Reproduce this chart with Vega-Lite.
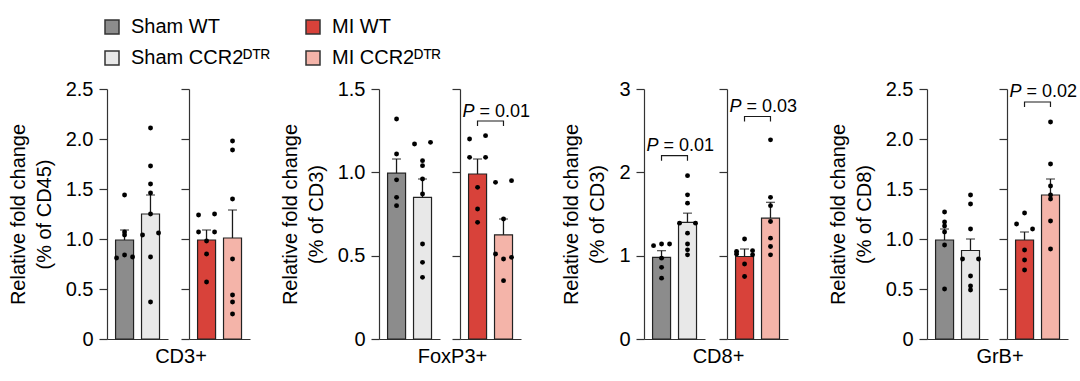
{
"$schema": "https://vega.github.io/schema/vega-lite/v6.json",
"background": "white",
"padding": {"left": 8, "top": 17, "right": 2, "bottom": 2},
"config": {
 "font": "Liberation Sans",
 "view": {"stroke": null},
 "axis": {"grid": false, "domainColor": "#333", "domainWidth": 1.2, "tickColor": "#333", "tickWidth": 1.2, "labelFontSize": 20, "labelColor": "#000", "titleFontSize": 20, "titleFontWeight": "normal", "titleColor": "#000"},
 "axisY": {"tickSize": 8, "labelPadding": 6, "titlePadding": 11, "titleLineHeight": 26},
 "axisX": {"labels": false, "ticks": false, "titlePadding": 7},
 "legend": {"orient": "none", "legendX": -5, "legendY": -72, "columns": 2, "symbolType": "square", "symbolSize": 196, "symbolStrokeColor": "#333", "symbolStrokeWidth": 1.5, "labelFontSize": 20, "labelColor": "#000", "labelOffset": 9, "rowPadding": 11, "columnPadding": 33, "labelLimit": 300}
},
"datasets": {
 "bars": [
  {"marker":"CD3+","cond":"Sham","group":"Sham WT","mean":0.99,"hi":1.09},
  {"marker":"CD3+","cond":"Sham","group":"Sham CCR2ᴰᵀᴿ","mean":1.25,"hi":1.44},
  {"marker":"CD3+","cond":"MI","group":"MI WT","mean":0.99,"hi":1.09},
  {"marker":"CD3+","cond":"MI","group":"MI CCR2ᴰᵀᴿ","mean":1.01,"hi":1.29},
  {"marker":"FoxP3+","cond":"Sham","group":"Sham WT","mean":0.995,"hi":1.08},
  {"marker":"FoxP3+","cond":"Sham","group":"Sham CCR2ᴰᵀᴿ","mean":0.85,"hi":0.96},
  {"marker":"FoxP3+","cond":"MI","group":"MI WT","mean":0.99,"hi":1.08},
  {"marker":"FoxP3+","cond":"MI","group":"MI CCR2ᴰᵀᴿ","mean":0.625,"hi":0.72},
  {"marker":"CD8+","cond":"Sham","group":"Sham WT","mean":0.98,"hi":1.06},
  {"marker":"CD8+","cond":"Sham","group":"Sham CCR2ᴰᵀᴿ","mean":1.40,"hi":1.51},
  {"marker":"CD8+","cond":"MI","group":"MI WT","mean":0.99,"hi":1.08},
  {"marker":"CD8+","cond":"MI","group":"MI CCR2ᴰᵀᴿ","mean":1.45,"hi":1.64},
  {"marker":"GrB+","cond":"Sham","group":"Sham WT","mean":0.99,"hi":1.10},
  {"marker":"GrB+","cond":"Sham","group":"Sham CCR2ᴰᵀᴿ","mean":0.885,"hi":1.0},
  {"marker":"GrB+","cond":"MI","group":"MI WT","mean":0.99,"hi":1.07},
  {"marker":"GrB+","cond":"MI","group":"MI CCR2ᴰᵀᴿ","mean":1.44,"hi":1.60}
 ],
 "dots": [
  {"marker":"CD3+","cond":"Sham","group":"Sham WT","value":1.44,"lane":"C"},
  {"marker":"CD3+","cond":"Sham","group":"Sham WT","value":1.07,"lane":"C"},
  {"marker":"CD3+","cond":"Sham","group":"Sham WT","value":1.04,"lane":"C"},
  {"marker":"CD3+","cond":"Sham","group":"Sham WT","value":0.84,"lane":"C"},
  {"marker":"CD3+","cond":"Sham","group":"Sham WT","value":0.81,"lane":"L"},
  {"marker":"CD3+","cond":"Sham","group":"Sham WT","value":0.82,"lane":"R"},
  {"marker":"CD3+","cond":"Sham","group":"Sham CCR2ᴰᵀᴿ","value":2.11,"lane":"C"},
  {"marker":"CD3+","cond":"Sham","group":"Sham CCR2ᴰᵀᴿ","value":1.73,"lane":"C"},
  {"marker":"CD3+","cond":"Sham","group":"Sham CCR2ᴰᵀᴿ","value":1.55,"lane":"C"},
  {"marker":"CD3+","cond":"Sham","group":"Sham CCR2ᴰᵀᴿ","value":1.46,"lane":"C"},
  {"marker":"CD3+","cond":"Sham","group":"Sham CCR2ᴰᵀᴿ","value":1.25,"lane":"C"},
  {"marker":"CD3+","cond":"Sham","group":"Sham CCR2ᴰᵀᴿ","value":1.04,"lane":"L"},
  {"marker":"CD3+","cond":"Sham","group":"Sham CCR2ᴰᵀᴿ","value":1.06,"lane":"R"},
  {"marker":"CD3+","cond":"Sham","group":"Sham CCR2ᴰᵀᴿ","value":0.82,"lane":"C"},
  {"marker":"CD3+","cond":"Sham","group":"Sham CCR2ᴰᵀᴿ","value":0.37,"lane":"C"},
  {"marker":"CD3+","cond":"MI","group":"MI WT","value":1.24,"lane":"L"},
  {"marker":"CD3+","cond":"MI","group":"MI WT","value":1.25,"lane":"R"},
  {"marker":"CD3+","cond":"MI","group":"MI WT","value":1.07,"lane":"L"},
  {"marker":"CD3+","cond":"MI","group":"MI WT","value":1.07,"lane":"R"},
  {"marker":"CD3+","cond":"MI","group":"MI WT","value":0.98,"lane":"C"},
  {"marker":"CD3+","cond":"MI","group":"MI WT","value":0.85,"lane":"C"},
  {"marker":"CD3+","cond":"MI","group":"MI WT","value":0.57,"lane":"C"},
  {"marker":"CD3+","cond":"MI","group":"MI CCR2ᴰᵀᴿ","value":1.98,"lane":"C"},
  {"marker":"CD3+","cond":"MI","group":"MI CCR2ᴰᵀᴿ","value":1.89,"lane":"C"},
  {"marker":"CD3+","cond":"MI","group":"MI CCR2ᴰᵀᴿ","value":1.40,"lane":"C"},
  {"marker":"CD3+","cond":"MI","group":"MI CCR2ᴰᵀᴿ","value":0.80,"lane":"C"},
  {"marker":"CD3+","cond":"MI","group":"MI CCR2ᴰᵀᴿ","value":0.44,"lane":"C"},
  {"marker":"CD3+","cond":"MI","group":"MI CCR2ᴰᵀᴿ","value":0.37,"lane":"C"},
  {"marker":"CD3+","cond":"MI","group":"MI CCR2ᴰᵀᴿ","value":0.25,"lane":"C"},
  {"marker":"FoxP3+","cond":"Sham","group":"Sham WT","value":1.32,"lane":"C"},
  {"marker":"FoxP3+","cond":"Sham","group":"Sham WT","value":1.11,"lane":"C"},
  {"marker":"FoxP3+","cond":"Sham","group":"Sham WT","value":0.955,"lane":"C"},
  {"marker":"FoxP3+","cond":"Sham","group":"Sham WT","value":0.85,"lane":"C"},
  {"marker":"FoxP3+","cond":"Sham","group":"Sham WT","value":0.80,"lane":"C"},
  {"marker":"FoxP3+","cond":"Sham","group":"Sham CCR2ᴰᵀᴿ","value":1.17,"lane":"L"},
  {"marker":"FoxP3+","cond":"Sham","group":"Sham CCR2ᴰᵀᴿ","value":1.18,"lane":"R"},
  {"marker":"FoxP3+","cond":"Sham","group":"Sham CCR2ᴰᵀᴿ","value":1.07,"lane":"C"},
  {"marker":"FoxP3+","cond":"Sham","group":"Sham CCR2ᴰᵀᴿ","value":1.04,"lane":"C"},
  {"marker":"FoxP3+","cond":"Sham","group":"Sham CCR2ᴰᵀᴿ","value":0.96,"lane":"C"},
  {"marker":"FoxP3+","cond":"Sham","group":"Sham CCR2ᴰᵀᴿ","value":0.87,"lane":"C"},
  {"marker":"FoxP3+","cond":"Sham","group":"Sham CCR2ᴰᵀᴿ","value":0.57,"lane":"C"},
  {"marker":"FoxP3+","cond":"Sham","group":"Sham CCR2ᴰᵀᴿ","value":0.46,"lane":"C"},
  {"marker":"FoxP3+","cond":"Sham","group":"Sham CCR2ᴰᵀᴿ","value":0.37,"lane":"C"},
  {"marker":"FoxP3+","cond":"MI","group":"MI WT","value":1.20,"lane":"L"},
  {"marker":"FoxP3+","cond":"MI","group":"MI WT","value":1.22,"lane":"R"},
  {"marker":"FoxP3+","cond":"MI","group":"MI WT","value":1.09,"lane":"L"},
  {"marker":"FoxP3+","cond":"MI","group":"MI WT","value":1.09,"lane":"R"},
  {"marker":"FoxP3+","cond":"MI","group":"MI WT","value":0.91,"lane":"C"},
  {"marker":"FoxP3+","cond":"MI","group":"MI WT","value":0.78,"lane":"C"},
  {"marker":"FoxP3+","cond":"MI","group":"MI WT","value":0.70,"lane":"C"},
  {"marker":"FoxP3+","cond":"MI","group":"MI CCR2ᴰᵀᴿ","value":0.94,"lane":"L"},
  {"marker":"FoxP3+","cond":"MI","group":"MI CCR2ᴰᵀᴿ","value":0.95,"lane":"R"},
  {"marker":"FoxP3+","cond":"MI","group":"MI CCR2ᴰᵀᴿ","value":0.72,"lane":"C"},
  {"marker":"FoxP3+","cond":"MI","group":"MI CCR2ᴰᵀᴿ","value":0.51,"lane":"L"},
  {"marker":"FoxP3+","cond":"MI","group":"MI CCR2ᴰᵀᴿ","value":0.48,"lane":"C"},
  {"marker":"FoxP3+","cond":"MI","group":"MI CCR2ᴰᵀᴿ","value":0.49,"lane":"R"},
  {"marker":"FoxP3+","cond":"MI","group":"MI CCR2ᴰᵀᴿ","value":0.35,"lane":"C"},
  {"marker":"CD8+","cond":"Sham","group":"Sham WT","value":1.12,"lane":"L"},
  {"marker":"CD8+","cond":"Sham","group":"Sham WT","value":1.14,"lane":"C"},
  {"marker":"CD8+","cond":"Sham","group":"Sham WT","value":1.14,"lane":"R"},
  {"marker":"CD8+","cond":"Sham","group":"Sham WT","value":0.97,"lane":"C"},
  {"marker":"CD8+","cond":"Sham","group":"Sham WT","value":0.86,"lane":"C"},
  {"marker":"CD8+","cond":"Sham","group":"Sham WT","value":0.73,"lane":"C"},
  {"marker":"CD8+","cond":"Sham","group":"Sham CCR2ᴰᵀᴿ","value":1.96,"lane":"C"},
  {"marker":"CD8+","cond":"Sham","group":"Sham CCR2ᴰᵀᴿ","value":1.73,"lane":"C"},
  {"marker":"CD8+","cond":"Sham","group":"Sham CCR2ᴰᵀᴿ","value":1.63,"lane":"C"},
  {"marker":"CD8+","cond":"Sham","group":"Sham CCR2ᴰᵀᴿ","value":1.39,"lane":"L"},
  {"marker":"CD8+","cond":"Sham","group":"Sham CCR2ᴰᵀᴿ","value":1.39,"lane":"R"},
  {"marker":"CD8+","cond":"Sham","group":"Sham CCR2ᴰᵀᴿ","value":1.27,"lane":"C"},
  {"marker":"CD8+","cond":"Sham","group":"Sham CCR2ᴰᵀᴿ","value":1.14,"lane":"C"},
  {"marker":"CD8+","cond":"Sham","group":"Sham CCR2ᴰᵀᴿ","value":1.07,"lane":"C"},
  {"marker":"CD8+","cond":"Sham","group":"Sham CCR2ᴰᵀᴿ","value":1.01,"lane":"C"},
  {"marker":"CD8+","cond":"MI","group":"MI WT","value":1.20,"lane":"C"},
  {"marker":"CD8+","cond":"MI","group":"MI WT","value":1.05,"lane":"L"},
  {"marker":"CD8+","cond":"MI","group":"MI WT","value":1.06,"lane":"R"},
  {"marker":"CD8+","cond":"MI","group":"MI WT","value":1.02,"lane":"L"},
  {"marker":"CD8+","cond":"MI","group":"MI WT","value":1.01,"lane":"R"},
  {"marker":"CD8+","cond":"MI","group":"MI WT","value":0.90,"lane":"C"},
  {"marker":"CD8+","cond":"MI","group":"MI WT","value":0.75,"lane":"C"},
  {"marker":"CD8+","cond":"MI","group":"MI CCR2ᴰᵀᴿ","value":2.39,"lane":"C"},
  {"marker":"CD8+","cond":"MI","group":"MI CCR2ᴰᵀᴿ","value":1.70,"lane":"C"},
  {"marker":"CD8+","cond":"MI","group":"MI CCR2ᴰᵀᴿ","value":1.60,"lane":"C"},
  {"marker":"CD8+","cond":"MI","group":"MI CCR2ᴰᵀᴿ","value":1.41,"lane":"C"},
  {"marker":"CD8+","cond":"MI","group":"MI CCR2ᴰᵀᴿ","value":1.21,"lane":"C"},
  {"marker":"CD8+","cond":"MI","group":"MI CCR2ᴰᵀᴿ","value":1.11,"lane":"C"},
  {"marker":"CD8+","cond":"MI","group":"MI CCR2ᴰᵀᴿ","value":1.01,"lane":"C"},
  {"marker":"GrB+","cond":"Sham","group":"Sham WT","value":1.27,"lane":"C"},
  {"marker":"GrB+","cond":"Sham","group":"Sham WT","value":1.17,"lane":"C"},
  {"marker":"GrB+","cond":"Sham","group":"Sham WT","value":1.13,"lane":"C"},
  {"marker":"GrB+","cond":"Sham","group":"Sham WT","value":1.07,"lane":"C"},
  {"marker":"GrB+","cond":"Sham","group":"Sham WT","value":0.94,"lane":"C"},
  {"marker":"GrB+","cond":"Sham","group":"Sham WT","value":0.50,"lane":"C"},
  {"marker":"GrB+","cond":"Sham","group":"Sham CCR2ᴰᵀᴿ","value":1.44,"lane":"C"},
  {"marker":"GrB+","cond":"Sham","group":"Sham CCR2ᴰᵀᴿ","value":1.35,"lane":"C"},
  {"marker":"GrB+","cond":"Sham","group":"Sham CCR2ᴰᵀᴿ","value":1.10,"lane":"C"},
  {"marker":"GrB+","cond":"Sham","group":"Sham CCR2ᴰᵀᴿ","value":0.80,"lane":"L"},
  {"marker":"GrB+","cond":"Sham","group":"Sham CCR2ᴰᵀᴿ","value":0.80,"lane":"R"},
  {"marker":"GrB+","cond":"Sham","group":"Sham CCR2ᴰᵀᴿ","value":0.63,"lane":"C"},
  {"marker":"GrB+","cond":"Sham","group":"Sham CCR2ᴰᵀᴿ","value":0.53,"lane":"C"},
  {"marker":"GrB+","cond":"Sham","group":"Sham CCR2ᴰᵀᴿ","value":0.49,"lane":"C"},
  {"marker":"GrB+","cond":"MI","group":"MI WT","value":1.26,"lane":"C"},
  {"marker":"GrB+","cond":"MI","group":"MI WT","value":1.15,"lane":"L"},
  {"marker":"GrB+","cond":"MI","group":"MI WT","value":1.10,"lane":"R"},
  {"marker":"GrB+","cond":"MI","group":"MI WT","value":0.89,"lane":"C"},
  {"marker":"GrB+","cond":"MI","group":"MI WT","value":0.79,"lane":"C"},
  {"marker":"GrB+","cond":"MI","group":"MI WT","value":0.69,"lane":"C"},
  {"marker":"GrB+","cond":"MI","group":"MI CCR2ᴰᵀᴿ","value":2.17,"lane":"C"},
  {"marker":"GrB+","cond":"MI","group":"MI CCR2ᴰᵀᴿ","value":1.75,"lane":"C"},
  {"marker":"GrB+","cond":"MI","group":"MI CCR2ᴰᵀᴿ","value":1.53,"lane":"C"},
  {"marker":"GrB+","cond":"MI","group":"MI CCR2ᴰᵀᴿ","value":1.44,"lane":"C"},
  {"marker":"GrB+","cond":"MI","group":"MI CCR2ᴰᵀᴿ","value":1.40,"lane":"C"},
  {"marker":"GrB+","cond":"MI","group":"MI CCR2ᴰᵀᴿ","value":1.18,"lane":"C"},
  {"marker":"GrB+","cond":"MI","group":"MI CCR2ᴰᵀᴿ","value":0.90,"lane":"C"}
 ],
 "brk": [
  {"marker":"FoxP3+","cond":"MI","group":"MI WT","y":1.278,"k":1},
  {"marker":"FoxP3+","cond":"MI","group":"MI WT","y":1.308,"k":2},
  {"marker":"FoxP3+","cond":"MI","group":"MI CCR2ᴰᵀᴿ","y":1.308,"k":3},
  {"marker":"FoxP3+","cond":"MI","group":"MI CCR2ᴰᵀᴿ","y":1.278,"k":4},
  {"marker":"CD8+","cond":"Sham","group":"Sham WT","y":2.14,"k":1},
  {"marker":"CD8+","cond":"Sham","group":"Sham WT","y":2.20,"k":2},
  {"marker":"CD8+","cond":"Sham","group":"Sham CCR2ᴰᵀᴿ","y":2.20,"k":3},
  {"marker":"CD8+","cond":"Sham","group":"Sham CCR2ᴰᵀᴿ","y":2.14,"k":4},
  {"marker":"CD8+","cond":"MI","group":"MI WT","y":2.61,"k":1},
  {"marker":"CD8+","cond":"MI","group":"MI WT","y":2.67,"k":2},
  {"marker":"CD8+","cond":"MI","group":"MI CCR2ᴰᵀᴿ","y":2.67,"k":3},
  {"marker":"CD8+","cond":"MI","group":"MI CCR2ᴰᵀᴿ","y":2.61,"k":4},
  {"marker":"GrB+","cond":"MI","group":"MI WT","y":2.32,"k":1},
  {"marker":"GrB+","cond":"MI","group":"MI WT","y":2.37,"k":2},
  {"marker":"GrB+","cond":"MI","group":"MI CCR2ᴰᵀᴿ","y":2.37,"k":3},
  {"marker":"GrB+","cond":"MI","group":"MI CCR2ᴰᵀᴿ","y":2.32,"k":4}
 ],
 "plab": [
  {"marker":"FoxP3+","cond":"MI","group":"MI WT","y":1.335,"label":"= 0.01"},
  {"marker":"CD8+","cond":"Sham","group":"Sham WT","y":2.26,"label":"= 0.01"},
  {"marker":"CD8+","cond":"MI","group":"MI WT","y":2.73,"label":"= 0.03"},
  {"marker":"GrB+","cond":"MI","group":"MI WT","y":2.42,"label":"= 0.02"}
 ]
},
"spacing": 30,
"hconcat": [
 {"spacing": 21, "bounds": "flush", "hconcat": [
  {"width": 61, "height": 250, "layer": [
   {"data":{"name":"bars"},"transform":[{"filter":"datum.marker=='CD3+' && datum.cond=='Sham'"}],
    "mark":{"type":"bar","stroke":"#222","strokeWidth":1.2},
    "encoding":{
     "x":{"field":"group","type":"nominal","title":"CD3+","scale":{"domain":["Sham WT","Sham CCR2ᴰᵀᴿ"],"paddingInner":0.31,"paddingOuter":0.33},"axis":{"titleX":73.5}},
     "y":{"field":"mean","type":"quantitative","title":["Relative fold change","(% of CD45)"],"scale":{"domain":[0,2.5],"nice":false},"axis":{"values":[0,0.5,1,1.5,2,2.5],"labelExpr":"datum.value == 0 ? '0' : format(datum.value, '.1f')"}},
     "color":{"field":"group","type":"nominal","title":null,"scale":{"domain":["Sham WT","Sham CCR2ᴰᵀᴿ","MI WT","MI CCR2ᴰᵀᴿ"],"range":["#8c8c8c","#e8e8e8","#d8423a","#f4b4a9"]}}}},
   {"data":{"name":"bars"},"transform":[{"filter":"datum.marker=='CD3+' && datum.cond=='Sham'"}],
    "mark":{"type":"rule","color":"#1a1a1a","strokeWidth":1.3},
    "encoding":{"x":{"field":"group","type":"nominal","title":"CD3+"},"y":{"field":"mean","type":"quantitative","title":["Relative fold change","(% of CD45)"]},"y2":{"field":"hi"}}},
   {"data":{"name":"bars"},"transform":[{"filter":"datum.marker=='CD3+' && datum.cond=='Sham'"}],
    "mark":{"type":"tick","color":"#1a1a1a","thickness":1.3,"size":9},
    "encoding":{"x":{"field":"group","type":"nominal","title":"CD3+"},"y":{"field":"hi","type":"quantitative","title":["Relative fold change","(% of CD45)"]}}},
   {"data":{"name":"dots"},"transform":[{"filter":"datum.marker=='CD3+' && datum.cond=='Sham'"}],
    "mark":{"type":"circle","size":24,"color":"#000","opacity":1},
    "encoding":{"x":{"field":"group","type":"nominal","title":"CD3+"},"xOffset":{"field":"lane","type":"nominal","scale":{"type":"point","domain":["L","C","R"],"range":[1,17],"padding":0}},"y":{"field":"value","type":"quantitative","title":["Relative fold change","(% of CD45)"]}}}
  ]},
  {"width": 61, "height": 250, "layer": [
   {"data":{"name":"bars"},"transform":[{"filter":"datum.marker=='CD3+' && datum.cond=='MI'"}],
    "mark":{"type":"bar","stroke":"#222","strokeWidth":1.2},
    "encoding":{
     "x":{"field":"group","type":"nominal","title":null,"scale":{"domain":["MI WT","MI CCR2ᴰᵀᴿ"],"paddingInner":0.31,"paddingOuter":0.33}},
     "y":{"field":"mean","type":"quantitative","title":null,"scale":{"domain":[0,2.5],"nice":false},"axis":{"values":[0,0.5,1,1.5,2,2.5],"labels":false}},
     "color":{"field":"group","type":"nominal","title":null,"scale":{"domain":["Sham WT","Sham CCR2ᴰᵀᴿ","MI WT","MI CCR2ᴰᵀᴿ"],"range":["#8c8c8c","#e8e8e8","#d8423a","#f4b4a9"]}}}},
   {"data":{"name":"bars"},"transform":[{"filter":"datum.marker=='CD3+' && datum.cond=='MI'"}],
    "mark":{"type":"rule","color":"#1a1a1a","strokeWidth":1.3},
    "encoding":{"x":{"field":"group","type":"nominal","title":null},"y":{"field":"mean","type":"quantitative","title":null},"y2":{"field":"hi"}}},
   {"data":{"name":"bars"},"transform":[{"filter":"datum.marker=='CD3+' && datum.cond=='MI'"}],
    "mark":{"type":"tick","color":"#1a1a1a","thickness":1.3,"size":9},
    "encoding":{"x":{"field":"group","type":"nominal","title":null},"y":{"field":"hi","type":"quantitative","title":null}}},
   {"data":{"name":"dots"},"transform":[{"filter":"datum.marker=='CD3+' && datum.cond=='MI'"}],
    "mark":{"type":"circle","size":24,"color":"#000","opacity":1},
    "encoding":{"x":{"field":"group","type":"nominal","title":null},"xOffset":{"field":"lane","type":"nominal","scale":{"type":"point","domain":["L","C","R"],"range":[1,17],"padding":0}},"y":{"field":"value","type":"quantitative","title":null}}}
  ]}
 ]},
 {"spacing": 20, "bounds": "flush", "hconcat": [
  {"width": 61, "height": 250, "layer": [
   {"data":{"name":"bars"},"transform":[{"filter":"datum.marker=='FoxP3+' && datum.cond=='Sham'"}],
    "mark":{"type":"bar","stroke":"#222","strokeWidth":1.2},
    "encoding":{
     "x":{"field":"group","type":"nominal","title":"FoxP3+","scale":{"domain":["Sham WT","Sham CCR2ᴰᵀᴿ"],"paddingInner":0.31,"paddingOuter":0.33},"axis":{"titleX":73}},
     "y":{"field":"mean","type":"quantitative","title":["Relative fold change","(% of CD3)"],"scale":{"domain":[0,1.5],"nice":false},"axis":{"values":[0,0.5,1,1.5],"labelExpr":"datum.value == 0 ? '0' : format(datum.value, '.1f')"}},
     "color":{"field":"group","type":"nominal","title":null,"scale":{"domain":["Sham WT","Sham CCR2ᴰᵀᴿ","MI WT","MI CCR2ᴰᵀᴿ"],"range":["#8c8c8c","#e8e8e8","#d8423a","#f4b4a9"]}}}},
   {"data":{"name":"bars"},"transform":[{"filter":"datum.marker=='FoxP3+' && datum.cond=='Sham'"}],
    "mark":{"type":"rule","color":"#1a1a1a","strokeWidth":1.3},
    "encoding":{"x":{"field":"group","type":"nominal","title":"FoxP3+"},"y":{"field":"mean","type":"quantitative","title":["Relative fold change","(% of CD3)"]},"y2":{"field":"hi"}}},
   {"data":{"name":"bars"},"transform":[{"filter":"datum.marker=='FoxP3+' && datum.cond=='Sham'"}],
    "mark":{"type":"tick","color":"#1a1a1a","thickness":1.3,"size":9},
    "encoding":{"x":{"field":"group","type":"nominal","title":"FoxP3+"},"y":{"field":"hi","type":"quantitative","title":["Relative fold change","(% of CD3)"]}}},
   {"data":{"name":"dots"},"transform":[{"filter":"datum.marker=='FoxP3+' && datum.cond=='Sham'"}],
    "mark":{"type":"circle","size":24,"color":"#000","opacity":1},
    "encoding":{"x":{"field":"group","type":"nominal","title":"FoxP3+"},"xOffset":{"field":"lane","type":"nominal","scale":{"type":"point","domain":["L","C","R"],"range":[1,17],"padding":0}},"y":{"field":"value","type":"quantitative","title":["Relative fold change","(% of CD3)"]}}}
  ]},
  {"width": 61, "height": 250, "layer": [
   {"data":{"name":"bars"},"transform":[{"filter":"datum.marker=='FoxP3+' && datum.cond=='MI'"}],
    "mark":{"type":"bar","stroke":"#222","strokeWidth":1.2},
    "encoding":{
     "x":{"field":"group","type":"nominal","title":null,"scale":{"domain":["MI WT","MI CCR2ᴰᵀᴿ"],"paddingInner":0.31,"paddingOuter":0.33}},
     "y":{"field":"mean","type":"quantitative","title":null,"scale":{"domain":[0,1.5],"nice":false},"axis":{"values":[0,0.5,1,1.5],"labels":false}},
     "color":{"field":"group","type":"nominal","title":null,"scale":{"domain":["Sham WT","Sham CCR2ᴰᵀᴿ","MI WT","MI CCR2ᴰᵀᴿ"],"range":["#8c8c8c","#e8e8e8","#d8423a","#f4b4a9"]}}}},
   {"data":{"name":"bars"},"transform":[{"filter":"datum.marker=='FoxP3+' && datum.cond=='MI'"}],
    "mark":{"type":"rule","color":"#1a1a1a","strokeWidth":1.3},
    "encoding":{"x":{"field":"group","type":"nominal","title":null},"y":{"field":"mean","type":"quantitative","title":null},"y2":{"field":"hi"}}},
   {"data":{"name":"bars"},"transform":[{"filter":"datum.marker=='FoxP3+' && datum.cond=='MI'"}],
    "mark":{"type":"tick","color":"#1a1a1a","thickness":1.3,"size":9},
    "encoding":{"x":{"field":"group","type":"nominal","title":null},"y":{"field":"hi","type":"quantitative","title":null}}},
   {"data":{"name":"dots"},"transform":[{"filter":"datum.marker=='FoxP3+' && datum.cond=='MI'"}],
    "mark":{"type":"circle","size":24,"color":"#000","opacity":1},
    "encoding":{"x":{"field":"group","type":"nominal","title":null},"xOffset":{"field":"lane","type":"nominal","scale":{"type":"point","domain":["L","C","R"],"range":[1,17],"padding":0}},"y":{"field":"value","type":"quantitative","title":null}}},
   {"data":{"name":"brk"},"transform":[{"filter":"datum.marker=='FoxP3+' && datum.cond=='MI'"}],
    "mark":{"type":"line","color":"#1a1a1a","strokeWidth":1.2},
    "encoding":{"x":{"field":"group","type":"nominal","title":null},"y":{"field":"y","type":"quantitative","title":null},"order":{"field":"k","type":"quantitative"}}},
   {"data":{"name":"plab"},"transform":[{"filter":"datum.marker=='FoxP3+' && datum.cond=='MI'"}],
    "mark":{"type":"text","fontSize":18,"fontStyle":"italic","align":"right","baseline":"alphabetic","dx":-12,"color":"#000"},
    "encoding":{"x":{"field":"group","type":"nominal","title":null,"bandPosition":1},"y":{"field":"y","type":"quantitative","title":null},"text":{"value":"P"}}},
   {"data":{"name":"plab"},"transform":[{"filter":"datum.marker=='FoxP3+' && datum.cond=='MI'"}],
    "mark":{"type":"text","fontSize":18,"align":"left","baseline":"alphabetic","dx":-7,"color":"#000"},
    "encoding":{"x":{"field":"group","type":"nominal","title":null,"bandPosition":1},"y":{"field":"y","type":"quantitative","title":null},"text":{"field":"label"}}}
  ]}
 ]},
 {"spacing": 22, "bounds": "flush", "hconcat": [
  {"width": 61, "height": 250, "layer": [
   {"data":{"name":"bars"},"transform":[{"filter":"datum.marker=='CD8+' && datum.cond=='Sham'"}],
    "mark":{"type":"bar","stroke":"#222","strokeWidth":1.2},
    "encoding":{
     "x":{"field":"group","type":"nominal","title":"CD8+","scale":{"domain":["Sham WT","Sham CCR2ᴰᵀᴿ"],"paddingInner":0.31,"paddingOuter":0.33},"axis":{"titleX":74}},
     "y":{"field":"mean","type":"quantitative","title":["Relative fold change","(% of CD3)"],"scale":{"domain":[0,3],"nice":false},"axis":{"values":[0,1,2,3],"format":"d"}},
     "color":{"field":"group","type":"nominal","title":null,"scale":{"domain":["Sham WT","Sham CCR2ᴰᵀᴿ","MI WT","MI CCR2ᴰᵀᴿ"],"range":["#8c8c8c","#e8e8e8","#d8423a","#f4b4a9"]}}}},
   {"data":{"name":"bars"},"transform":[{"filter":"datum.marker=='CD8+' && datum.cond=='Sham'"}],
    "mark":{"type":"rule","color":"#1a1a1a","strokeWidth":1.3},
    "encoding":{"x":{"field":"group","type":"nominal","title":"CD8+"},"y":{"field":"mean","type":"quantitative","title":["Relative fold change","(% of CD3)"]},"y2":{"field":"hi"}}},
   {"data":{"name":"bars"},"transform":[{"filter":"datum.marker=='CD8+' && datum.cond=='Sham'"}],
    "mark":{"type":"tick","color":"#1a1a1a","thickness":1.3,"size":9},
    "encoding":{"x":{"field":"group","type":"nominal","title":"CD8+"},"y":{"field":"hi","type":"quantitative","title":["Relative fold change","(% of CD3)"]}}},
   {"data":{"name":"dots"},"transform":[{"filter":"datum.marker=='CD8+' && datum.cond=='Sham'"}],
    "mark":{"type":"circle","size":24,"color":"#000","opacity":1},
    "encoding":{"x":{"field":"group","type":"nominal","title":"CD8+"},"xOffset":{"field":"lane","type":"nominal","scale":{"type":"point","domain":["L","C","R"],"range":[1,17],"padding":0}},"y":{"field":"value","type":"quantitative","title":["Relative fold change","(% of CD3)"]}}},
   {"data":{"name":"brk"},"transform":[{"filter":"datum.marker=='CD8+' && datum.cond=='Sham'"}],
    "mark":{"type":"line","color":"#1a1a1a","strokeWidth":1.2},
    "encoding":{"x":{"field":"group","type":"nominal","title":"CD8+"},"y":{"field":"y","type":"quantitative","title":["Relative fold change","(% of CD3)"]},"order":{"field":"k","type":"quantitative"}}},
   {"data":{"name":"plab"},"transform":[{"filter":"datum.marker=='CD8+' && datum.cond=='Sham'"}],
    "mark":{"type":"text","fontSize":18,"fontStyle":"italic","align":"right","baseline":"alphabetic","dx":-12,"color":"#000"},
    "encoding":{"x":{"field":"group","type":"nominal","title":"CD8+","bandPosition":1},"y":{"field":"y","type":"quantitative","title":["Relative fold change","(% of CD3)"]},"text":{"value":"P"}}},
   {"data":{"name":"plab"},"transform":[{"filter":"datum.marker=='CD8+' && datum.cond=='Sham'"}],
    "mark":{"type":"text","fontSize":18,"align":"left","baseline":"alphabetic","dx":-7,"color":"#000"},
    "encoding":{"x":{"field":"group","type":"nominal","title":"CD8+","bandPosition":1},"y":{"field":"y","type":"quantitative","title":["Relative fold change","(% of CD3)"]},"text":{"field":"label"}}}
  ]},
  {"width": 61, "height": 250, "layer": [
   {"data":{"name":"bars"},"transform":[{"filter":"datum.marker=='CD8+' && datum.cond=='MI'"}],
    "mark":{"type":"bar","stroke":"#222","strokeWidth":1.2},
    "encoding":{
     "x":{"field":"group","type":"nominal","title":null,"scale":{"domain":["MI WT","MI CCR2ᴰᵀᴿ"],"paddingInner":0.31,"paddingOuter":0.33}},
     "y":{"field":"mean","type":"quantitative","title":null,"scale":{"domain":[0,3],"nice":false},"axis":{"values":[0,1,2,3],"labels":false}},
     "color":{"field":"group","type":"nominal","title":null,"scale":{"domain":["Sham WT","Sham CCR2ᴰᵀᴿ","MI WT","MI CCR2ᴰᵀᴿ"],"range":["#8c8c8c","#e8e8e8","#d8423a","#f4b4a9"]}}}},
   {"data":{"name":"bars"},"transform":[{"filter":"datum.marker=='CD8+' && datum.cond=='MI'"}],
    "mark":{"type":"rule","color":"#1a1a1a","strokeWidth":1.3},
    "encoding":{"x":{"field":"group","type":"nominal","title":null},"y":{"field":"mean","type":"quantitative","title":null},"y2":{"field":"hi"}}},
   {"data":{"name":"bars"},"transform":[{"filter":"datum.marker=='CD8+' && datum.cond=='MI'"}],
    "mark":{"type":"tick","color":"#1a1a1a","thickness":1.3,"size":9},
    "encoding":{"x":{"field":"group","type":"nominal","title":null},"y":{"field":"hi","type":"quantitative","title":null}}},
   {"data":{"name":"dots"},"transform":[{"filter":"datum.marker=='CD8+' && datum.cond=='MI'"}],
    "mark":{"type":"circle","size":24,"color":"#000","opacity":1},
    "encoding":{"x":{"field":"group","type":"nominal","title":null},"xOffset":{"field":"lane","type":"nominal","scale":{"type":"point","domain":["L","C","R"],"range":[1,17],"padding":0}},"y":{"field":"value","type":"quantitative","title":null}}},
   {"data":{"name":"brk"},"transform":[{"filter":"datum.marker=='CD8+' && datum.cond=='MI'"}],
    "mark":{"type":"line","color":"#1a1a1a","strokeWidth":1.2},
    "encoding":{"x":{"field":"group","type":"nominal","title":null},"y":{"field":"y","type":"quantitative","title":null},"order":{"field":"k","type":"quantitative"}}},
   {"data":{"name":"plab"},"transform":[{"filter":"datum.marker=='CD8+' && datum.cond=='MI'"}],
    "mark":{"type":"text","fontSize":18,"fontStyle":"italic","align":"right","baseline":"alphabetic","dx":-12,"color":"#000"},
    "encoding":{"x":{"field":"group","type":"nominal","title":null,"bandPosition":1},"y":{"field":"y","type":"quantitative","title":null},"text":{"value":"P"}}},
   {"data":{"name":"plab"},"transform":[{"filter":"datum.marker=='CD8+' && datum.cond=='MI'"}],
    "mark":{"type":"text","fontSize":18,"align":"left","baseline":"alphabetic","dx":-7,"color":"#000"},
    "encoding":{"x":{"field":"group","type":"nominal","title":null,"bandPosition":1},"y":{"field":"y","type":"quantitative","title":null},"text":{"field":"label"}}}
  ]}
 ]},
 {"spacing": 19, "bounds": "flush", "hconcat": [
  {"width": 61, "height": 250, "layer": [
   {"data":{"name":"bars"},"transform":[{"filter":"datum.marker=='GrB+' && datum.cond=='Sham'"}],
    "mark":{"type":"bar","stroke":"#222","strokeWidth":1.2},
    "encoding":{
     "x":{"field":"group","type":"nominal","title":"GrB+","scale":{"domain":["Sham WT","Sham CCR2ᴰᵀᴿ"],"paddingInner":0.31,"paddingOuter":0.33},"axis":{"titleX":72.5}},
     "y":{"field":"mean","type":"quantitative","title":["Relative fold change","(% of CD8)"],"scale":{"domain":[0,2.5],"nice":false},"axis":{"values":[0,0.5,1,1.5,2,2.5],"labelExpr":"datum.value == 0 ? '0' : format(datum.value, '.1f')"}},
     "color":{"field":"group","type":"nominal","title":null,"scale":{"domain":["Sham WT","Sham CCR2ᴰᵀᴿ","MI WT","MI CCR2ᴰᵀᴿ"],"range":["#8c8c8c","#e8e8e8","#d8423a","#f4b4a9"]}}}},
   {"data":{"name":"bars"},"transform":[{"filter":"datum.marker=='GrB+' && datum.cond=='Sham'"}],
    "mark":{"type":"rule","color":"#1a1a1a","strokeWidth":1.3},
    "encoding":{"x":{"field":"group","type":"nominal","title":"GrB+"},"y":{"field":"mean","type":"quantitative","title":["Relative fold change","(% of CD8)"]},"y2":{"field":"hi"}}},
   {"data":{"name":"bars"},"transform":[{"filter":"datum.marker=='GrB+' && datum.cond=='Sham'"}],
    "mark":{"type":"tick","color":"#1a1a1a","thickness":1.3,"size":9},
    "encoding":{"x":{"field":"group","type":"nominal","title":"GrB+"},"y":{"field":"hi","type":"quantitative","title":["Relative fold change","(% of CD8)"]}}},
   {"data":{"name":"dots"},"transform":[{"filter":"datum.marker=='GrB+' && datum.cond=='Sham'"}],
    "mark":{"type":"circle","size":24,"color":"#000","opacity":1},
    "encoding":{"x":{"field":"group","type":"nominal","title":"GrB+"},"xOffset":{"field":"lane","type":"nominal","scale":{"type":"point","domain":["L","C","R"],"range":[1,17],"padding":0}},"y":{"field":"value","type":"quantitative","title":["Relative fold change","(% of CD8)"]}}}
  ]},
  {"width": 61, "height": 250, "layer": [
   {"data":{"name":"bars"},"transform":[{"filter":"datum.marker=='GrB+' && datum.cond=='MI'"}],
    "mark":{"type":"bar","stroke":"#222","strokeWidth":1.2},
    "encoding":{
     "x":{"field":"group","type":"nominal","title":null,"scale":{"domain":["MI WT","MI CCR2ᴰᵀᴿ"],"paddingInner":0.31,"paddingOuter":0.33}},
     "y":{"field":"mean","type":"quantitative","title":null,"scale":{"domain":[0,2.5],"nice":false},"axis":{"values":[0,0.5,1,1.5,2,2.5],"labels":false}},
     "color":{"field":"group","type":"nominal","title":null,"scale":{"domain":["Sham WT","Sham CCR2ᴰᵀᴿ","MI WT","MI CCR2ᴰᵀᴿ"],"range":["#8c8c8c","#e8e8e8","#d8423a","#f4b4a9"]}}}},
   {"data":{"name":"bars"},"transform":[{"filter":"datum.marker=='GrB+' && datum.cond=='MI'"}],
    "mark":{"type":"rule","color":"#1a1a1a","strokeWidth":1.3},
    "encoding":{"x":{"field":"group","type":"nominal","title":null},"y":{"field":"mean","type":"quantitative","title":null},"y2":{"field":"hi"}}},
   {"data":{"name":"bars"},"transform":[{"filter":"datum.marker=='GrB+' && datum.cond=='MI'"}],
    "mark":{"type":"tick","color":"#1a1a1a","thickness":1.3,"size":9},
    "encoding":{"x":{"field":"group","type":"nominal","title":null},"y":{"field":"hi","type":"quantitative","title":null}}},
   {"data":{"name":"dots"},"transform":[{"filter":"datum.marker=='GrB+' && datum.cond=='MI'"}],
    "mark":{"type":"circle","size":24,"color":"#000","opacity":1},
    "encoding":{"x":{"field":"group","type":"nominal","title":null},"xOffset":{"field":"lane","type":"nominal","scale":{"type":"point","domain":["L","C","R"],"range":[1,17],"padding":0}},"y":{"field":"value","type":"quantitative","title":null}}},
   {"data":{"name":"brk"},"transform":[{"filter":"datum.marker=='GrB+' && datum.cond=='MI'"}],
    "mark":{"type":"line","color":"#1a1a1a","strokeWidth":1.2},
    "encoding":{"x":{"field":"group","type":"nominal","title":null},"y":{"field":"y","type":"quantitative","title":null},"order":{"field":"k","type":"quantitative"}}},
   {"data":{"name":"plab"},"transform":[{"filter":"datum.marker=='GrB+' && datum.cond=='MI'"}],
    "mark":{"type":"text","fontSize":18,"fontStyle":"italic","align":"right","baseline":"alphabetic","dx":-12,"color":"#000"},
    "encoding":{"x":{"field":"group","type":"nominal","title":null,"bandPosition":1},"y":{"field":"y","type":"quantitative","title":null},"text":{"value":"P"}}},
   {"data":{"name":"plab"},"transform":[{"filter":"datum.marker=='GrB+' && datum.cond=='MI'"}],
    "mark":{"type":"text","fontSize":18,"align":"left","baseline":"alphabetic","dx":-7,"color":"#000"},
    "encoding":{"x":{"field":"group","type":"nominal","title":null,"bandPosition":1},"y":{"field":"y","type":"quantitative","title":null},"text":{"field":"label"}}}
  ]}
 ]}
]
}
